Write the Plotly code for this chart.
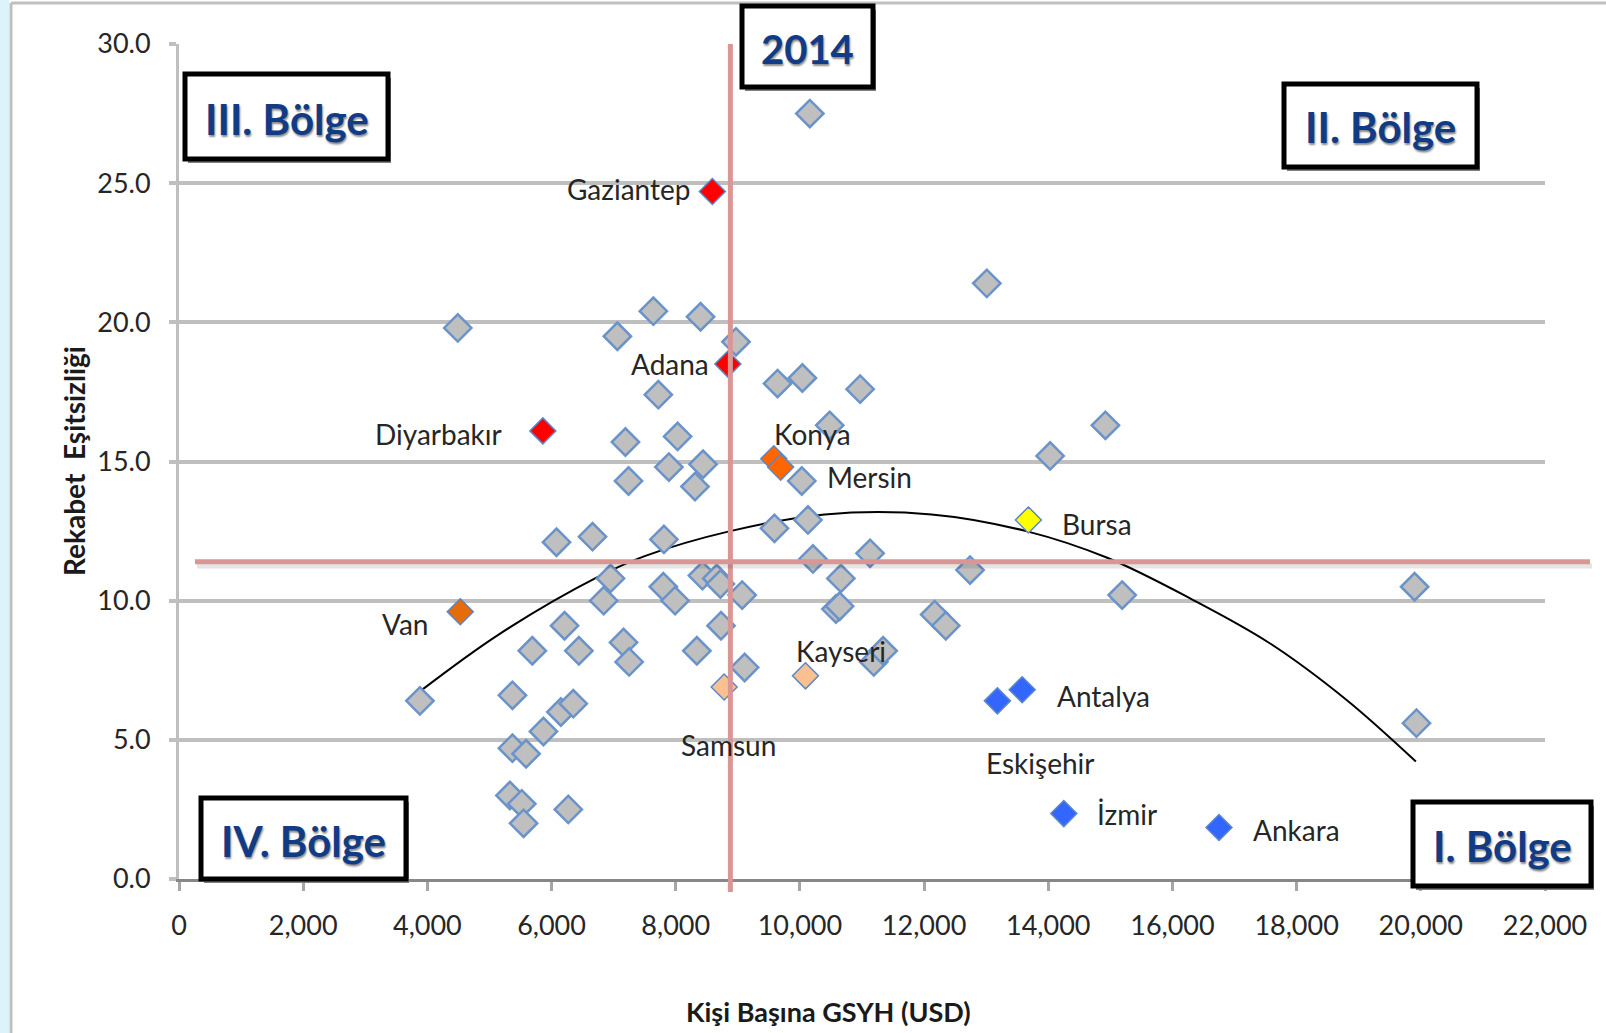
import plotly.graph_objects as go

# --- data ----------------------------------------------------------------
# other provinces (grey diamonds)
other_gdp = [10160, 13010, 4490, 7640, 8400, 7060, 8970, 7720, 9640, 10040,
             10970, 10480, 7190, 8030, 7890, 8440, 7240, 8310, 10030, 14030,
             14920, 9590, 10130, 6080, 6660, 7810, 10210, 11130, 12740, 6950,
             6840, 7800, 7990, 8430, 8660, 8720, 9070, 10660, 10580, 10640,
             15190, 19900, 12170, 12350, 6210, 8730, 5690, 6440, 7160, 7250,
             8340, 9110, 11190, 11340, 3880, 5370, 6150, 6350, 5870, 5370,
             5590, 19930, 5330, 5520, 5550, 6270]
other_ineq = [27.5, 21.4, 19.8, 20.4, 20.2, 19.5, 19.3, 17.4, 17.8, 18.0,
              17.6, 16.3, 15.7, 15.9, 14.8, 14.9, 14.3, 14.1, 14.3, 15.2,
              16.3, 12.6, 12.9, 12.1, 12.3, 12.2, 11.5, 11.7, 11.1, 10.8,
              10.0, 10.5, 10.0, 10.9, 10.8, 10.6, 10.2, 10.8, 9.7, 9.8,
              10.2, 10.5, 9.5, 9.1, 9.1, 9.1, 8.2, 8.2, 8.5, 7.8,
              8.2, 7.6, 7.8, 8.2, 6.4, 6.6, 6.0, 6.3, 5.3, 4.7,
              4.5, 5.6, 3.0, 2.7, 2.0, 2.5]

# highlighted provinces
city_names = ["Gaziantep", "Adana", "Diyarbakır", "Konya", "Mersin", "Van",
              "Bursa", "Samsun", "Kayseri", "Eskişehir", "Antalya", "İzmir", "Ankara"]
city_gdp = [8590, 8840, 5860, 9580, 9690, 4530, 13680, 8780, 10090, 13180, 13580, 14250, 16750]
city_ineq = [24.7, 18.5, 16.1, 15.1, 14.8, 9.6, 12.9, 6.9, 7.3, 6.4, 6.8, 2.35, 1.85]

# polynomial trend line
trend_gdp = [3880, 5160, 6770, 7500, 8860, 10400, 12120, 13660, 14950, 16320, 17560, 18800, 19920]
trend_ineq = [6.74, 8.8, 10.88, 11.6, 12.49, 13.1, 13.1, 12.49, 11.54, 10.04, 8.48, 6.44, 4.22]

gdp_threshold = 8880
ineq_threshold = 11.4

x_ticks = list(range(0, 22001, 2000))
y_ticks = [0, 5, 10, 15, 20, 25, 30]

# --- styles ---------------------------------------------------------------
city_color = {
    "Gaziantep": "#FF0000", "Adana": "#FF0000", "Diyarbakır": "#FF0000",
    "Konya": "#FF6600", "Mersin": "#FF6600", "Van": "#E46C0A",
    "Bursa": "#FFFF00", "Samsun": "#FAC090", "Kayseri": "#FAC090",
    "Eskişehir": "#3366FF", "Antalya": "#3366FF", "İzmir": "#3366FF", "Ankara": "#3366FF",
}
# (xanchor, xshift, yshift) of each label relative to its point, in px
label_pos = {
    "Gaziantep": ("right", -20, 3), "Adana": ("right", -17, 0),
    "Diyarbakır": ("right", -39, -3), "Konya": ("left", -2, 25),
    "Mersin": ("left", 44, -10), "Van": ("center", -55, -12),
    "Bursa": ("left", 32, -4), "Kayseri": ("center", 35, 25),
    "Samsun": ("center", 4, -58), "Eskişehir": ("center", 43, -62),
    "Antalya": ("left", 33, -6), "İzmir": ("left", 31, 0), "Ankara": ("left", 32, -2),
}

FONT = "Lato, Open Sans, sans-serif"
W, H = 1606, 1033
L, R, T, B = 179, 61, 44, 154
PW, PH = W - L - R, H - T - B


def px(x):
    return (x - L) / PW


def py(y):
    return (H - B - y) / PH


fig = go.Figure()

fig.add_trace(go.Scatter(
    x=trend_gdp, y=trend_ineq, mode="lines",
    line=dict(color="black", width=2, shape="spline", smoothing=1),
    hoverinfo="skip",
))

fig.add_trace(go.Scatter(
    x=other_gdp, y=other_ineq, mode="markers",
    marker=dict(symbol="diamond", size=21, color="#BFBFBF",
                line=dict(color="#6A93C9", width=2.5)),
))

fig.add_trace(go.Scatter(
    x=city_gdp, y=city_ineq, mode="markers", text=city_names,
    marker=dict(symbol="diamond", size=20,
                color=[city_color[c] for c in city_names],
                line=dict(color="#5B87C5", width=1.5)),
))

for name, gx, gy in zip(city_names, city_gdp, city_ineq):
    anchor, dx, dy = label_pos[name]
    fig.add_annotation(x=gx, y=gy, text=name, showarrow=False,
                       xanchor=anchor, yanchor="middle", xshift=dx, yshift=dy,
                       font=dict(family=FONT, size=28, color="#262626"))

# quadrant lines (with a soft shadow)
fig.add_shape(type="line", xref="x", yref="paper", x0=gdp_threshold, x1=gdp_threshold,
              y0=py(892), y1=1, line=dict(color="#D99694", width=5))
fig.add_shape(type="line", xref="paper", yref="y", x0=px(197), x1=px(1592),
              y0=ineq_threshold - 0.15, y1=ineq_threshold - 0.15,
              line=dict(color="rgba(0,0,0,0.10)", width=5))
fig.add_shape(type="line", xref="paper", yref="y", x0=px(195), x1=px(1590),
              y0=ineq_threshold, y1=ineq_threshold, line=dict(color="#D99694", width=5))

# slide frame
fig.add_shape(type="rect", xref="paper", yref="paper", x0=px(0), x1=px(9), y0=py(H), y1=py(0),
              fillcolor="#DDF3FB", line_width=0, layer="below")
fig.add_shape(type="line", xref="paper", yref="paper", x0=px(11), x1=px(11), y0=py(H), y1=py(3),
              line=dict(color="#C0C0C0", width=3))
fig.add_shape(type="line", xref="paper", yref="paper", x0=px(11), x1=px(W), y0=py(3), y1=py(3),
              line=dict(color="#C0C0C0", width=3))

# region boxes
boxes = [
    ("III. Bölge", 185, 74, 388, 159),
    ("II. Bölge", 1284, 84, 1477, 167),
    ("IV. Bölge", 201, 798, 406, 879),
    ("I. Bölge", 1413, 802, 1591, 886),
    ("2014", 742, 6, 873, 87),
]
for text, x0, y0, x1, y1 in boxes:
    fig.add_shape(type="rect", xref="paper", yref="paper",
                  x0=px(x0 + 3), x1=px(x1 + 3), y0=py(y1 + 4), y1=py(y0 + 4),
                  fillcolor="#7F7F7F", line_width=0)
    fig.add_shape(type="rect", xref="paper", yref="paper",
                  x0=px(x0), x1=px(x1), y0=py(y1), y1=py(y0),
                  fillcolor="white", line=dict(color="black", width=5))
    fig.add_annotation(xref="paper", yref="paper", x=px((x0 + x1) / 2), y=py((y0 + y1) / 2 + 2),
                       text=f"<b>{text}</b>", showarrow=False, xanchor="center", yanchor="middle",
                       font=dict(family=FONT, size=42 if text != "2014" else 40, color="#123B85",
                                 shadow="1px 2px 2px #8C8C8C"))

# axis titles
fig.add_annotation(xref="paper", yref="paper", x=px(74), y=py(461), text="<b>Rekabet  Eşitsizliği</b>",
                   textangle=-90, showarrow=False, xanchor="center", yanchor="middle",
                   font=dict(family=FONT, size=28, color="#1A1A1A"))
fig.add_annotation(xref="paper", yref="paper", x=px(828), y=py(1011), text="<b>Kişi Başına GSYH (USD)</b>",
                   showarrow=False, xanchor="center", yanchor="middle",
                   font=dict(family=FONT, size=27, color="#1A1A1A"))

fig.update_xaxes(
    range=[0, 22000], tickvals=x_ticks, tickformat=",d", showgrid=False, zeroline=False,
    showline=True, linecolor="#878787", linewidth=3,
    ticks="outside", ticklen=9, tickwidth=3, tickcolor="#A6A6A6", ticklabelstandoff=12,
    tickfont=dict(family=FONT, size=27, color="#262626"),
)
fig.update_yaxes(
    range=[0, 30], tickvals=y_ticks, tickformat=".1f", showgrid=True, gridcolor="#BFBFBF",
    gridwidth=3.5, zeroline=False, showline=True, linecolor="#BFBFBF", linewidth=3,
    ticks="outside", ticklen=7, tickwidth=3.5, tickcolor="#BFBFBF", ticklabelstandoff=13,
    tickfont=dict(family=FONT, size=27, color="#262626"),
)

fig.update_layout(
    width=W, height=H,
    margin=dict(l=L, r=R, t=T, b=B),
    paper_bgcolor="white", plot_bgcolor="white",
    showlegend=False,
)

# the page's default body margin would push the figure 8px off
fig.write_html("out.html", config={"displayModeBar": False},
               post_script="document.body.style.margin='0';")
